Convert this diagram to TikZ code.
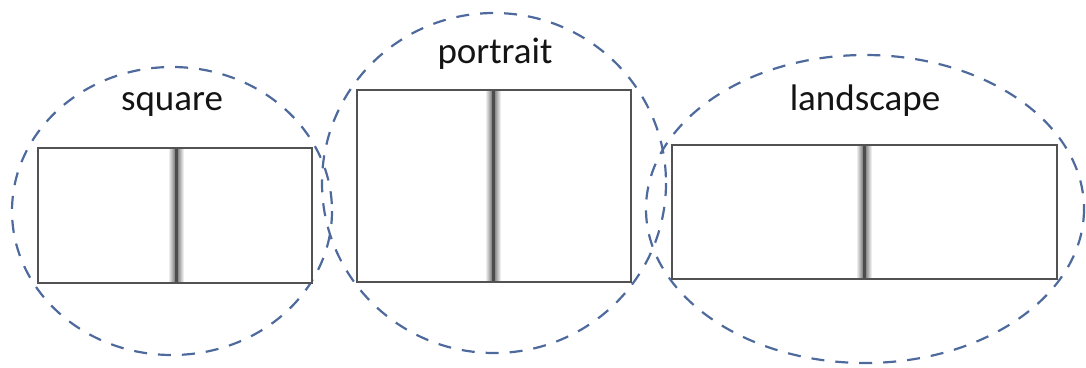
\documentclass[tikz,border=0pt]{standalone}
\usepackage{fontspec}
\setmainfont{Carlito}
\definecolor{zonecol}{HTML}{4E6A9C}
\begin{document}
\begin{tikzpicture}[x=1pt,y=-1pt,
  page/.style={draw=black!68, line width=2.6pt},
  zone/.style={draw=zonecol, line width=2.2pt, dash pattern=on 13pt off 11pt},
  lbl/.style={anchor=base, font=\fontsize{37}{40}\selectfont, text=black!92, inner sep=0pt}]
\useasboundingbox (0,0) rectangle (1086,367);
% ellipses
\draw[zone] (172,211) ellipse [x radius=160, y radius=144];
\draw[zone] (494,183) ellipse [x radius=172, y radius=170];
\draw[zone] (865,209) ellipse [x radius=219, y radius=154];
% pages
\foreach \l/\t/\r/\b/\g in {38/148/312/283/176, 357/90/631/282/493, 672/145/1057/279/864}{
  \fill[white] (\l,\t) rectangle (\r,\b);
  \shade[left color=white, right color=white, middle color=black!60] (\g-8,\t+1) rectangle (\g+8,\b-1);
  \draw[black!70, line width=3pt] (\g,\t) -- (\g,\b);
  \draw[page] (\l,\t) rectangle (\r,\b);
}
\node[lbl] (sqlabel) at (172,110) {square};
\node[lbl] (ptlabel) at (495,63) {portrait};
\node[lbl] (lslabel) at (865,110) {landscape};
\end{tikzpicture}
\end{document}
